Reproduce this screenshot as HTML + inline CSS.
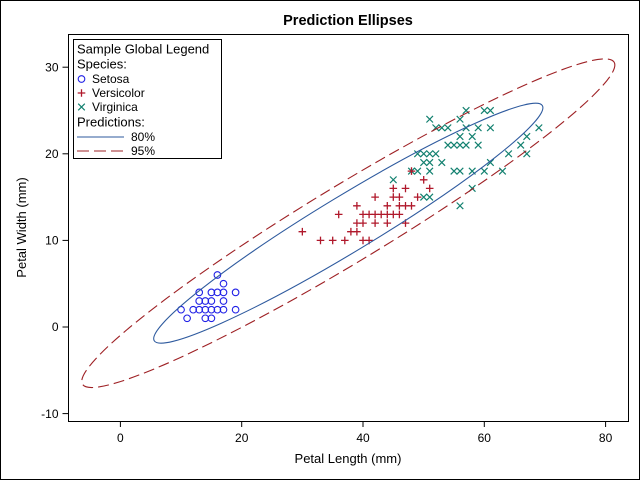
<!DOCTYPE html>
<html>
<head>
<meta charset="utf-8">
<style>
html,body{margin:0;padding:0;background:#fff;}
svg{display:block;}
text{font-family:"Liberation Sans",Arial,sans-serif;fill:#000;}
</style>
</head>
<body>
<svg width="640" height="480" viewBox="0 0 640 480" xmlns="http://www.w3.org/2000/svg">
<defs>
<circle id="c" cx="0" cy="0" r="3.3" fill="none" stroke="#2020E6" stroke-width="1.1"/>
<path id="p" d="M-3.8,0H3.8M0,-3.8V3.8" fill="none" stroke="#B0182B" stroke-width="1.3"/>
<path id="x" d="M-3.3,-3.3L3.3,3.3M-3.3,3.3L3.3,-3.3" fill="none" stroke="#12806F" stroke-width="1.2"/>
</defs>
<rect x="0.5" y="0.5" width="639" height="479" fill="#fff" stroke="#000" stroke-width="1"/>
<text x="348" y="25" font-size="14.5" font-weight="bold" text-anchor="middle">Prediction Ellipses</text>

<!-- Setosa -->
<g>
<use href="#c" x="205.3" y="309.7"/><use href="#c" x="199.2" y="309.7"/><use href="#c" x="211.4" y="309.7"/>
<use href="#c" x="223.5" y="292.4"/><use href="#c" x="205.3" y="301.0"/><use href="#c" x="211.4" y="318.3"/>
<use href="#c" x="217.4" y="309.7"/><use href="#c" x="205.3" y="318.3"/><use href="#c" x="187.1" y="318.3"/>
<use href="#c" x="193.2" y="309.7"/><use href="#c" x="211.4" y="292.4"/><use href="#c" x="199.2" y="292.4"/>
<use href="#c" x="223.5" y="301.0"/><use href="#c" x="211.4" y="301.0"/><use href="#c" x="223.5" y="309.7"/>
<use href="#c" x="181.05" y="309.7"/><use href="#c" x="223.5" y="283.7"/><use href="#c" x="235.6" y="309.7"/>
<use href="#c" x="217.4" y="292.4"/><use href="#c" x="199.2" y="301.0"/><use href="#c" x="217.4" y="275.0"/>
<use href="#c" x="235.6" y="292.4"/>
</g>
<!-- Virginica -->
<g>
<use href="#x" x="484.3" y="110.5"/><use href="#x" x="429.7" y="162.5"/><use href="#x" x="478.2" y="145.1"/>
<use href="#x" x="460.0" y="171.1"/><use href="#x" x="472.2" y="136.5"/><use href="#x" x="520.7" y="145.1"/>
<use href="#x" x="393.3" y="179.8"/><use href="#x" x="502.5" y="171.1"/><use href="#x" x="472.2" y="171.1"/>
<use href="#x" x="490.4" y="110.5"/><use href="#x" x="429.7" y="153.8"/><use href="#x" x="441.8" y="162.5"/>
<use href="#x" x="454.0" y="145.1"/><use href="#x" x="423.7" y="153.8"/><use href="#x" x="429.7" y="119.2"/>
<use href="#x" x="441.8" y="127.8"/><use href="#x" x="454.0" y="171.1"/><use href="#x" x="526.8" y="136.5"/>
<use href="#x" x="538.9" y="127.8"/><use href="#x" x="423.7" y="197.1"/><use href="#x" x="466.1" y="127.8"/>
<use href="#x" x="417.6" y="153.8"/><use href="#x" x="526.8" y="153.8"/><use href="#x" x="417.6" y="171.1"/>
<use href="#x" x="466.1" y="145.1"/><use href="#x" x="484.3" y="171.1"/><use href="#x" x="411.5" y="171.1"/>
<use href="#x" x="460.0" y="145.1"/><use href="#x" x="472.2" y="188.4"/><use href="#x" x="490.4" y="162.5"/>
<use href="#x" x="508.6" y="153.8"/><use href="#x" x="460.0" y="136.5"/><use href="#x" x="429.7" y="197.1"/>
<use href="#x" x="460.0" y="205.8"/><use href="#x" x="490.4" y="127.8"/><use href="#x" x="460.0" y="119.2"/>
<use href="#x" x="447.9" y="145.1"/><use href="#x" x="478.2" y="127.8"/><use href="#x" x="466.1" y="110.5"/>
<use href="#x" x="435.8" y="127.8"/><use href="#x" x="423.7" y="162.5"/><use href="#x" x="435.8" y="153.8"/>
<use href="#x" x="447.9" y="127.8"/><use href="#x" x="429.7" y="171.1"/>
</g>
<!-- Versicolor -->
<g>
<use href="#p" x="405.5" y="205.8"/><use href="#p" x="393.3" y="197.1"/><use href="#p" x="417.6" y="197.1"/>
<use href="#p" x="363.0" y="214.4"/><use href="#p" x="399.4" y="197.1"/><use href="#p" x="393.3" y="214.4"/>
<use href="#p" x="405.5" y="188.4"/><use href="#p" x="320.5" y="240.4"/><use href="#p" x="399.4" y="214.4"/>
<use href="#p" x="356.9" y="205.8"/><use href="#p" x="332.7" y="240.4"/><use href="#p" x="375.1" y="197.1"/>
<use href="#p" x="363.0" y="240.4"/><use href="#p" x="338.7" y="214.4"/><use href="#p" x="387.3" y="205.8"/>
<use href="#p" x="369.1" y="240.4"/><use href="#p" x="356.9" y="231.7"/><use href="#p" x="411.5" y="171.1"/>
<use href="#p" x="405.5" y="223.1"/><use href="#p" x="381.2" y="214.4"/><use href="#p" x="411.5" y="205.8"/>
<use href="#p" x="423.7" y="179.8"/><use href="#p" x="350.9" y="231.7"/><use href="#p" x="344.8" y="240.4"/>
<use href="#p" x="356.9" y="223.1"/><use href="#p" x="429.7" y="188.4"/><use href="#p" x="393.3" y="188.4"/>
<use href="#p" x="387.3" y="214.4"/><use href="#p" x="369.1" y="214.4"/><use href="#p" x="387.3" y="223.1"/>
<use href="#p" x="399.4" y="205.8"/><use href="#p" x="363.0" y="223.1"/><use href="#p" x="375.1" y="214.4"/>
<use href="#p" x="375.1" y="223.1"/><use href="#p" x="302.35" y="231.7"/>
</g>

<!-- Ellipses -->
<ellipse cx="348.3" cy="223.2" rx="226.9" ry="27.9" transform="rotate(-31.21 348.3 223.2)" fill="none" stroke="#2E5A9E" stroke-width="1.1"/>
<ellipse cx="348.3" cy="223.2" rx="310.8" ry="38.25" transform="rotate(-31.21 348.3 223.2)" fill="none" stroke="#9E2024" stroke-width="1.1" stroke-dasharray="11 5"/>

<!-- Plot frame -->
<rect x="68.5" y="34.5" width="560" height="387" fill="none" stroke="#000" stroke-width="1"/>

<!-- Ticks -->
<g stroke="#000" stroke-width="1">
<line x1="120.4" y1="421.5" x2="120.4" y2="427"/>
<line x1="241.7" y1="421.5" x2="241.7" y2="427"/>
<line x1="363.0" y1="421.5" x2="363.0" y2="427"/>
<line x1="484.3" y1="421.5" x2="484.3" y2="427"/>
<line x1="605.6" y1="421.5" x2="605.6" y2="427"/>
<line x1="62.5" y1="67.2" x2="68.5" y2="67.2"/>
<line x1="62.5" y1="153.8" x2="68.5" y2="153.8"/>
<line x1="62.5" y1="240.4" x2="68.5" y2="240.4"/>
<line x1="62.5" y1="327" x2="68.5" y2="327"/>
<line x1="62.5" y1="413.6" x2="68.5" y2="413.6"/>
</g>
<g font-size="12" text-anchor="middle">
<text x="120.4" y="442">0</text>
<text x="241.7" y="442">20</text>
<text x="363.0" y="442">40</text>
<text x="484.3" y="442">60</text>
<text x="605.6" y="442">80</text>
</g>
<g font-size="12" text-anchor="end">
<text x="58.5" y="71.4">30</text>
<text x="58.5" y="158">20</text>
<text x="58.5" y="244.6">10</text>
<text x="58.5" y="331.2">0</text>
<text x="58.5" y="417.8">-10</text>
</g>
<text x="348" y="463" font-size="13" text-anchor="middle">Petal Length (mm)</text>
<text transform="translate(26 227.5) rotate(-90)" font-size="13" text-anchor="middle">Petal Width (mm)</text>

<!-- Legend -->
<rect x="73.5" y="39.5" width="148" height="119" fill="#fff" stroke="#000" stroke-width="1"/>
<text x="77" y="53.5" font-size="13">Sample Global Legend</text>
<text x="77" y="68.5" font-size="13">Species:</text>
<use href="#c" x="81.5" y="79"/>
<text x="92" y="83" font-size="12">Setosa</text>
<use href="#p" x="81.5" y="93"/>
<text x="92" y="97" font-size="12">Versicolor</text>
<use href="#x" x="81.5" y="107"/>
<text x="92" y="111" font-size="12">Virginica</text>
<text x="77" y="126.5" font-size="13">Predictions:</text>
<line x1="77" y1="137" x2="124" y2="137" stroke="#2E5A9E" stroke-width="1.1"/>
<text x="131" y="141" font-size="12">80%</text>
<line x1="77" y1="151" x2="124" y2="151" stroke="#9E2024" stroke-width="1.1" stroke-dasharray="12 5"/>
<text x="131" y="155" font-size="12">95%</text>
</svg>
</body>
</html>
